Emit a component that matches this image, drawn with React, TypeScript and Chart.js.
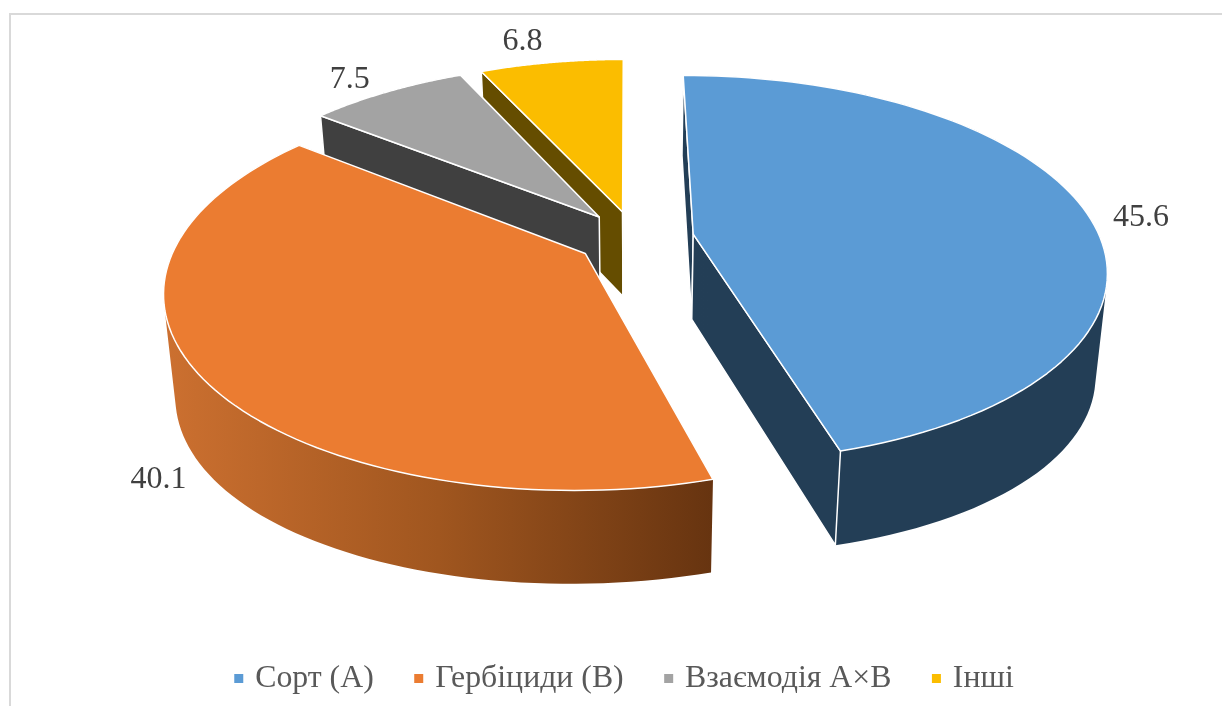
import React, { useEffect, useRef } from "react";
import { Chart, registerables } from "chart.js";

Chart.register(...registerables);

const categories = ["Сорт (А)", "Гербіциди (В)", "Взаємодія А×В", "Інші"];
const shares = [45.6, 40.1, 7.5, 6.8];
const topColors = ["#5B9BD5", "#EB7C31", "#A3A3A3", "#FBBD00"];
const wallStops = [
  ["#254059", "#254059", "#233E56"],
  ["#CC7030", "#A0561F", "#673410"],
  ["#404040", "#404040", "#404040"],
  ["#654D00", "#654D00", "#654D00"],
];
// label anchors, in units of the pie radius on the pie's own plane
const labelAnchorU = [1.267, -0.952, -0.825, -0.34];
const labelAnchorV = [-0.108, 1.044, -0.987, -1.278];
const drawOrder = [3, 2, 0, 1];

const VIEW = { cx: 635, cy: 238, rx: 407, ry: 188.4, k: 0.179, depth: 85, shrink: 0.025 };
const RADIUS = 280;
const OFFSET = 40.6;
const SERIF = "'Liberation Serif', 'Times New Roman', serif";

type P = [number, number];
const project = (u: number, v: number): P => {
  const w = 1 - VIEW.k * v;
  return [VIEW.cx + (VIEW.rx * u) / w, VIEW.cy + (VIEW.ry * v) / w];
};
const drop = (u: number, v: number): P => {
  const [x, y] = project(u, v);
  const w = 1 - VIEW.k * v;
  return [x - (x - VIEW.cx) * VIEW.shrink, y + VIEW.depth * (1 + (1 / w - 1) * 0.4 + 0.15 * u * u)];
};
const addPoly = (ctx: CanvasRenderingContext2D, pts: P[]) => {
  pts.forEach((p, i) => (i ? ctx.lineTo(p[0], p[1]) : ctx.moveTo(p[0], p[1])));
  ctx.closePath();
};
const poly = (ctx: CanvasRenderingContext2D, pts: P[]) => {
  ctx.beginPath();
  addPoly(ctx, pts);
};
const signedArea = (pts: P[]) =>
  pts.reduce((sum, p, i) => {
    const q = pts[(i + 1) % pts.length];
    return sum + p[0] * q[1] - q[0] * p[1];
  }, 0);

const pie3d = {
  id: "pie3d",
  beforeDraw(chart: any) {
    const { ctx } = chart;
    ctx.save();
    ctx.strokeStyle = "#D9D9D9";
    ctx.lineWidth = 2;
    ctx.beginPath();
    ctx.moveTo(10, 706);
    ctx.lineTo(10, 14);
    ctx.lineTo(1222, 14);
    ctx.stroke();
    ctx.restore();
  },
  beforeDatasetsDraw(chart: any) {
    const { ctx } = chart;
    const arcs = chart.getDatasetMeta(0).data;
    ctx.save();
    ctx.lineJoin = "round";
    for (const i of drawOrder) {
      const arc = arcs[i];
      const { startAngle, endAngle, outerRadius } = arc.getProps(["startAngle", "endAngle", "outerRadius"], true);
      const d = arc.options.offset / outerRadius;
      const mid = (startAngle + endAngle) / 2;
      const au = d * Math.cos(mid);
      const av = d * Math.sin(mid);
      const rim: P[] = [];
      const n = 90;
      for (let s = 0; s <= n; s++) {
        const a = startAngle + ((endAngle - startAngle) * s) / n;
        rim.push([au + Math.cos(a), av + Math.sin(a)]);
      }
      const wallFill = ctx.createLinearGradient(165, 0, 712, 0);
      wallStops[i].forEach((c: string, s: number) => wallFill.addColorStop(s / 2, c));
      // rim wall: one path of equally wound segments, so no seams and no holes
      ctx.fillStyle = wallFill;
      ctx.beginPath();
      for (let s = 0; s < n; s++) {
        const p = rim[s];
        const q = rim[s + 1];
        const quad: P[] = [project(p[0], p[1]), project(q[0], q[1]), drop(q[0], q[1]), drop(p[0], p[1])];
        addPoly(ctx, signedArea(quad) < 0 ? quad.reverse() : quad);
      }
      ctx.fill();
      // radial faces, only those turned toward the viewer
      ctx.strokeStyle = "#FFFFFF";
      ctx.lineWidth = 1.5;
      const faces: [P, number][] = [
        [rim[0], -1],
        [rim[n], 1],
      ];
      for (const [e, side] of faces) {
        const a = side < 0 ? startAngle : endAngle;
        const nu = -side * Math.sin(a);
        const nv = side * Math.cos(a);
        const facing = -au * nu + (1 / VIEW.k - av) * nv > 0;
        if (!facing) continue;
        poly(ctx, [project(au, av), drop(au, av), drop(e[0], e[1]), project(e[0], e[1])]);
        ctx.fill();
        ctx.stroke();
      }
      // top face
      poly(ctx, [project(au, av), ...rim.map((p) => project(p[0], p[1]))]);
      ctx.fillStyle = arc.options.backgroundColor;
      ctx.fill();
      ctx.stroke();
    }
    ctx.fillStyle = "#404040";
    ctx.font = `32px ${SERIF}`;
    ctx.textAlign = "center";
    ctx.textBaseline = "middle";
    shares.forEach((value, i) => {
      const [x, y] = project(labelAnchorU[i], labelAnchorV[i]);
      ctx.fillText(value.toFixed(1), x, y);
    });
    ctx.restore();
    return false;
  },
};

export default function App() {
  const ref = useRef<HTMLCanvasElement>(null);
  useEffect(() => {
    const chart = new Chart(ref.current!, {
      type: "pie",
      data: {
        labels: categories,
        datasets: [
          {
            data: shares,
            backgroundColor: topColors,
            borderColor: "#FFFFFF",
            radius: RADIUS,
            offset: OFFSET,
          },
        ],
      },
      options: {
        responsive: false,
        animation: false,
        rotation: -0.2,
        layout: { padding: { left: 30, bottom: 1.5 } },
        plugins: {
          tooltip: { enabled: false },
          legend: {
            position: "bottom",
            labels: {
              usePointStyle: true,
              pointStyle: "rect",
              boxWidth: 1,
              boxHeight: 11,
              padding: 44.5,
              color: "#595959",
              font: { family: SERIF, size: 31.8 },
            },
          },
        },
      },
      plugins: [pie3d],
    } as any);
    return () => chart.destroy();
  }, []);
  return (
    <canvas
      ref={ref}
      width={1222}
      height={706}
      style={{ position: "absolute", left: 0, top: 0, width: 1222, height: 706, display: "block" }}
    />
  );
}
